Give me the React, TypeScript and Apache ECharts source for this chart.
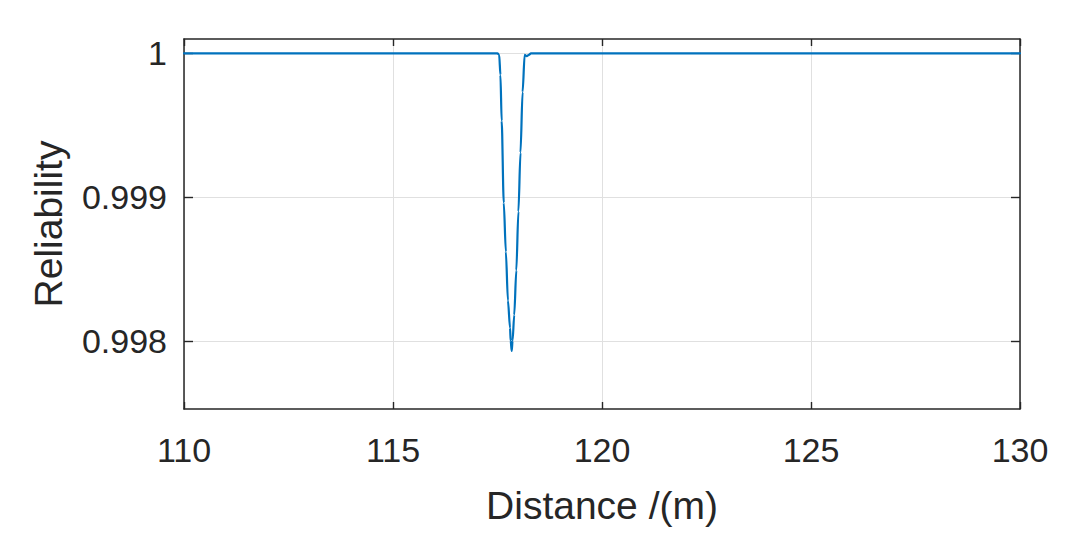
import React, { useEffect, useRef } from "react";
import * as echarts from "echarts";

// Distance (m) and reliability
const distance = [
  110, 112, 114, 116, 117, 117.5, 117.54, 117.57, 117.6, 117.65, 117.7, 117.75,
  117.8, 117.815, 117.84, 117.86, 117.9, 117.95, 118.0, 118.05, 118.1, 118.15,
  118.2, 118.25, 118.3, 118.35, 119, 120, 122, 124, 126, 128, 130,
];
const reliability = [
  1, 1, 1, 1, 1, 1, 0.99999, 0.99985, 0.99953, 0.99896, 0.99862, 0.99828,
  0.99809, 0.998, 0.99793, 0.998, 0.99818, 0.99849, 0.9989, 0.99931, 0.99973,
  0.99999, 0.99998, 0.99999, 1, 1, 1, 1, 1, 1, 1, 1, 1,
];
const xTicks = [110, 115, 120, 125, 130];
const yTicks = [0.998, 0.999, 1];

const FONT = "'Liberation Sans', Arial, Helvetica, sans-serif";
const TXT = "#262626";
const GRID = "#e0e0e0";

export default function App() {
  const ref = useRef<HTMLDivElement>(null);
  useEffect(() => {
    if (!ref.current) return;
    const chart = echarts.init(ref.current, undefined, { renderer: "svg" });
    const frameLine = { show: true, lineStyle: { color: TXT, width: 1.5 } };
    chart.setOption({
      animation: false,
      backgroundColor: "#ffffff",
      grid: { left: 184, right: 54, top: 39, bottom: 137, containLabel: false },
      xAxis: [
        {
          type: "value",
          min: xTicks[0],
          max: xTicks[xTicks.length - 1],
          interval: 5,
          position: "bottom",
          name: "Distance /(m)",
          nameLocation: "middle",
          nameGap: 77,
          nameTextStyle: { fontSize: 39, color: TXT, fontFamily: FONT },
          axisLine: frameLine,
          axisTick: { show: true, inside: true, length: 7, lineStyle: { color: TXT, width: 1.4 } },
          axisLabel: { fontSize: 34, color: TXT, fontFamily: FONT, margin: 24 },
          splitLine: { show: true, lineStyle: { color: GRID, width: 1 } },
        },
        {
          type: "value",
          min: xTicks[0],
          max: xTicks[xTicks.length - 1],
          interval: 5,
          position: "top",
          axisLine: frameLine,
          axisTick: { show: true, inside: true, length: 7, lineStyle: { color: TXT, width: 1.4 } },
          axisLabel: { show: false },
          splitLine: { show: false },
        },
      ],
      yAxis: [
        {
          type: "value",
          min: 0.997526,
          max: 1.0001,
          position: "left",
          name: "Reliability",
          nameLocation: "middle",
          nameGap: 116,
          nameRotate: 90,
          nameTextStyle: { fontSize: 39, color: TXT, fontFamily: FONT },
          axisLine: frameLine,
          axisTick: {
            show: true,
            inside: true,
            length: 9,
            customValues: yTicks,
            lineStyle: { color: TXT, width: 1.4 },
          },
          axisLabel: {
            fontSize: 34,
            color: TXT,
            fontFamily: FONT,
            margin: 17,
            customValues: yTicks,
            formatter: (v: number) => String(parseFloat(v.toFixed(4))),
          },
          splitLine: { show: true, lineStyle: { color: GRID, width: 1 } },
        },
        {
          type: "value",
          min: 0.997526,
          max: 1.0001,
          position: "right",
          axisLine: frameLine,
          axisTick: {
            show: true,
            inside: true,
            length: 9,
            customValues: yTicks,
            lineStyle: { color: TXT, width: 1.4 },
          },
          axisLabel: { show: false, customValues: yTicks },
          splitLine: { show: false },
        },
      ],
      series: [
        {
          type: "line",
          xAxisIndex: 0,
          yAxisIndex: 0,
          data: distance.map((d, i) => [d, reliability[i]]),
          showSymbol: false,
          symbol: "none",
          smooth: 0.3,
          smoothMonotone: "x",
          lineStyle: { color: "#0072BD", width: 2.2, join: "round", cap: "round" },
          z: 5,
        },
      ],
    });
    return () => chart.dispose();
  }, []);
  return (
    <div
      ref={ref}
      style={{ position: "fixed", left: 0, top: 0, width: 1074, height: 546, background: "#fff" }}
    />
  );
}
